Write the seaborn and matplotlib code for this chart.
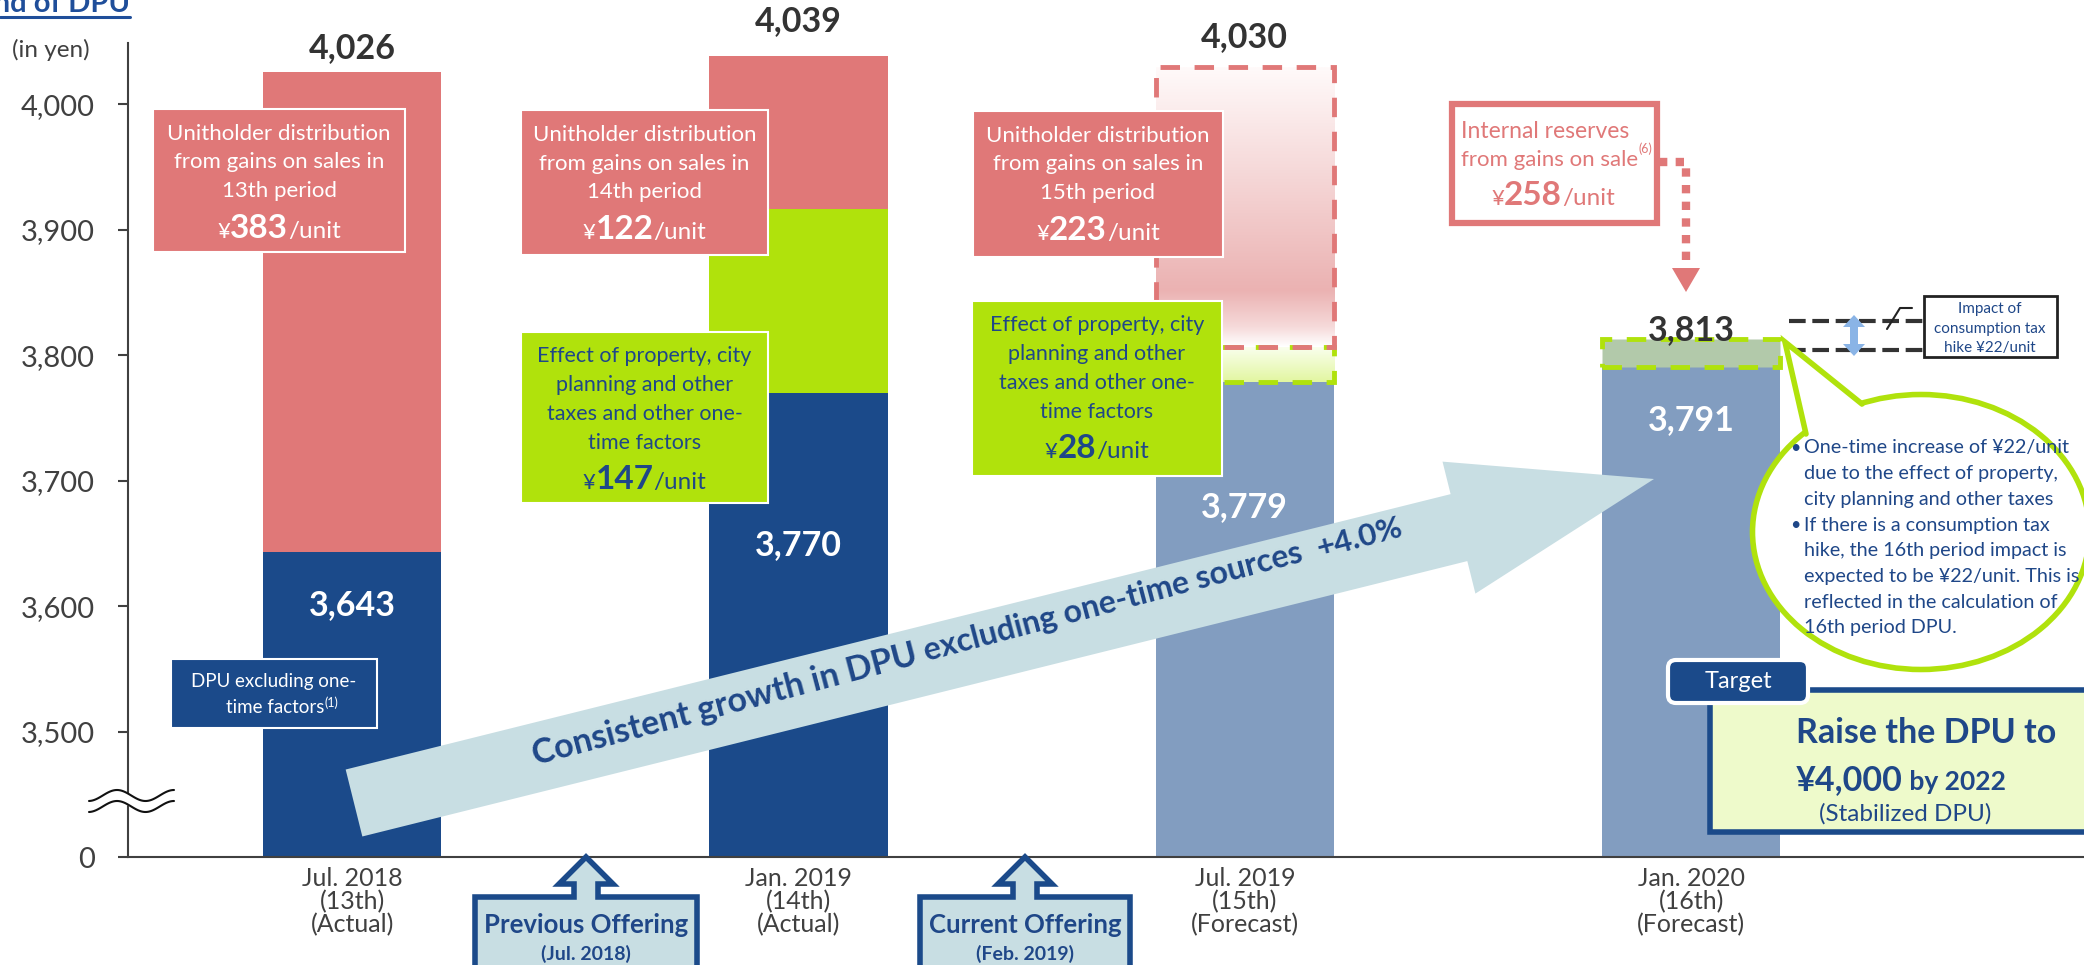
import matplotlib
matplotlib.use("Agg")
import matplotlib.pyplot as plt
import numpy as np
import pandas as pd
import seaborn as sns
from matplotlib.colors import LinearSegmentedColormap
from matplotlib.patches import Rectangle, Ellipse, Polygon, FancyArrow, FancyBboxPatch

# ---- data -------------------------------------------------------------
periods = ["Jul. 2018\n(13th)\n(Actual)", "Jan. 2019\n(14th)\n(Actual)",
           "Jul. 2019\n(15th)\n(Forecast)", "Jan. 2020\n(16th)\n(Forecast)"]
period_names = ["13th", "14th", "15th", "16th"]
dpu_excl = [3643, 3770, 3779, 3791]        # DPU excluding one-time factors
one_time = [0, 147, 28, 22]                # property / city planning taxes etc.
gains_dist = [383, 122, 223, 0]            # distribution from gains on sales
totals = [4026, 4039, 4030, 3813]
is_forecast = [False, False, True, True]
reserve_per_unit = 258
tax_hike_impact = 22
y_ticks = [3500, 3600, 3700, 3800, 3900, 4000]
AXIS_FLOOR = 3400                          # where the broken axis shows "0"

DARK = "#1B4A8A"
PINK = "#E07878"
LIME = "#B0E20C"
LIGHT = "#829DC0"
ARROW = "#C8DEE3"
TXT_BLUE = "#1F4788"
GREY = "#404040"
BAR_W = 0.4

sns.set_theme(style="white")
plt.rcParams["font.family"] = ["Lato", "DejaVu Sans"]

W, H = 2084, 965
fig = plt.figure(figsize=(W / 100, H / 100), dpi=100)
ax = fig.add_axes([128 / W, 1 - 857 / H, 1 - 128 / W, (857 - 43) / H])

df = pd.DataFrame({"period": periods, "base": dpu_excl, "one_time": one_time,
                   "gains": gains_dist, "total": totals, "forecast": is_forecast})
df["mid"] = df["base"] + df["one_time"]
solid = df[~df["forecast"]]

# stacked solid bars: total (pink) -> base + one-time (lime) -> base
sns.barplot(data=solid, x="period", y="total", order=periods, color=PINK,
            width=BAR_W, saturation=1, linewidth=0, errorbar=None, ax=ax)
sns.barplot(data=solid[solid["one_time"] > 0], x="period", y="mid", order=periods,
            color=LIME, width=BAR_W, saturation=1, linewidth=0, errorbar=None, ax=ax)
palette = {p: (LIGHT if f else DARK) for p, f in zip(periods, is_forecast)}
sns.barplot(data=df, x="period", y="base", hue="period", order=periods, palette=palette,
            width=BAR_W, saturation=1, linewidth=0, errorbar=None, legend=False, ax=ax)

# forecast bars: gradient + dashed segments
pink_cm = LinearSegmentedColormap.from_list(
    "pk", [(0, "#FFFFFF"), (0.07, "#F6DADA"), (0.2, "#EBB2B2"), (1, "#FFFAFA")])
lime_cm = LinearSegmentedColormap.from_list("lm", [(0, "#E2F6A0"), (1, "#FAFFF0")])
grad = np.linspace(0, 1, 256).reshape(-1, 1)
dash = (0, (4, 3))
for i, row in df.iterrows():
    if not row["forecast"]:
        continue
    x0 = i - BAR_W / 2
    if row["gains"] > 0:
        ax.imshow(grad, extent=[x0, x0 + BAR_W, row["base"], row["mid"]], cmap=lime_cm,
                  aspect="auto", origin="lower", zorder=2)
        ax.imshow(grad, extent=[x0, x0 + BAR_W, row["mid"], row["total"]], cmap=pink_cm,
                  aspect="auto", origin="lower", zorder=2)
        ax.add_patch(Rectangle((x0, row["base"]), BAR_W, row["one_time"], fill=False,
                               ec=LIME, lw=3.5, ls=dash, zorder=3))
        ax.add_patch(Rectangle((x0, row["mid"]), BAR_W, row["gains"], fill=False,
                               ec=PINK, lw=3.5, ls=dash, zorder=3))
    else:
        ax.add_patch(Rectangle((x0, row["base"]), BAR_W, row["one_time"], fc="#B2C9AA",
                               ec=LIME, lw=3.5, ls=dash, zorder=3))

# value labels
top_off = [24, 34, 30, 9]
in_off = [53, 152, 125, 53]
for i, row in df.iterrows():
    ax.annotate(f"{row['total']:,}", (i, row["total"]), xytext=(0, top_off[i] * 0.72),
                textcoords="offset points", ha="center", va="center", fontsize=24.5,
                weight="bold", color="#333333", annotation_clip=False, zorder=6)
    ax.annotate(f"{row['base']:,}", (i, row["base"]), xytext=(0, -in_off[i] * 0.72),
                textcoords="offset points", ha="center", va="center", fontsize=24.5,
                weight="bold", color="white", annotation_clip=False, zorder=6)

ax.set_xlim(-0.502, 3.88)
ax.set_ylim(AXIS_FLOOR, 4049)
ax.set_yticks([AXIS_FLOOR] + y_ticks)
ax.set_yticklabels(["0"] + [f"{v:,}" for v in y_ticks])
ax.set_xlabel("")
ax.set_ylabel("")
for t in ax.get_xticklabels():
    t.set_linespacing(1.0)
ax.tick_params(axis="y", length=7, width=1.5, color=GREY, pad=17, labelsize=21, labelcolor=GREY, left=True)
ax.tick_params(axis="x", length=0, pad=7, labelsize=18, labelcolor=GREY)
for side in ["top", "right"]:
    ax.spines[side].set_visible(False)
for side in ["left", "bottom"]:
    ax.spines[side].set_color(GREY)
    ax.spines[side].set_linewidth(1.5)

# ---- annotation overlay (pixel coordinates) --------------------------
ov = fig.add_axes([0, 0, 1, 1], zorder=5)
ov.set_xlim(0, W)
ov.set_ylim(H, 0)
ov.axis("off")
renderer = fig.canvas.get_renderer()


def rich(x, y, parts, color, align="center", z=8):
    items = []
    for text, size, weight, dy in parts:
        items.append(ov.text(0, y + dy, text, fontsize=size, fontweight=weight, color=color,
                             ha="left", va="baseline", zorder=z))
    widths = [t.get_window_extent(renderer).width for t in items]
    start = x - sum(widths) / 2 if align == "center" else x
    for t, w in zip(items, widths):
        t.set_x(start)
        start += w


def box(x0, y0, x1, y1, fc, ec="white", lw=1.5, z=4):
    ov.add_patch(Rectangle((x0, y0), x1 - x0, y1 - y0, fc=fc, ec=ec, lw=lw, zorder=z))


def amount(cx, y, value, color):
    rich(cx, y, [("¥", 16, "normal", 0), (str(value), 24, "bold", 0), ("/unit", 17.5, "normal", 0)], color)


# title (cut off at the top-left edge, as in the slide) and unit
ov.text(130, 12, "Trend of DPU", ha="right", va="baseline", fontsize=21, weight="bold", color="#1F4E9A")
ov.plot([0, 130], [17, 17], color="#1F4E9A", lw=2.2)
ov.text(51, 50, "(in yen)", ha="center", va="center", fontsize=17.5, color=GREY)

# pink boxes: unitholder distribution from gains on sales
pink_boxes = [(153, 109, 405, 252), (521, 110, 768, 255), (973, 111, 1223, 257)]
for (x0, y0, x1, y1), g, name in zip(pink_boxes, gains_dist, period_names):
    box(x0, y0, x1, y1, PINK)
    cx = (x0 + x1) / 2
    for k, line in enumerate(["Unitholder distribution", "from gains on sales in", f"{name} period"]):
        ov.text(cx, y0 + 25 + k * 28.5, line, ha="center", va="center", fontsize=16, color="white", zorder=8)
    amount(cx, y0 + 129, g, "white")

# lime boxes: one-time tax effects
green_boxes = {1: (521, 332, 768, 503), 2: (972, 301, 1222, 476)}
for i, (x0, y0, x1, y1) in green_boxes.items():
    box(x0, y0, x1, y1, LIME)
    cx = (x0 + x1) / 2
    for k, line in enumerate(["Effect of property, city", "planning and other",
                              "taxes and other one-", "time factors"]):
        ov.text(cx, y0 + 24 + k * 29, line, ha="center", va="center", fontsize=15.5, color=TXT_BLUE, zorder=8)
    amount(cx, y0 + 157, one_time[i], TXT_BLUE)

# DPU excluding one-time factors label
box(171, 659, 377, 728, DARK, lw=1.5)
ov.text(274, 682, "DPU excluding one-", ha="center", va="center", fontsize=13.5, color="white", zorder=8)
rich(282, 713, [("time factors", 13.5, "normal", 0), ("(1)", 9, "normal", -6)], "white")

# internal reserves box + dotted arrow down to the 16th period bar
ov.add_patch(Rectangle((1452, 104), 205, 119, fc="white", ec=PINK, lw=4.5, zorder=4))
ov.text(1461, 131, "Internal reserves", ha="left", va="center", fontsize=16.5, color=PINK, zorder=8)
rich(1461, 166, [("from gains on sale", 16, "normal", 0), ("(6)", 9, "normal", -13)], PINK, align="left")
amount(1553, 205, reserve_per_unit, PINK)
ov.plot([1659, 1686, 1686], [162, 162, 272], color=PINK, lw=6, ls=(0, (1, 1)),
        dash_capstyle="butt", zorder=4)
ov.add_patch(Polygon([(1672, 268), (1700, 268), (1686, 292)], closed=True, fc=PINK, ec="none", zorder=4))

# consumption tax hike marker
for yy in (321, 350):
    ov.plot([1789, 1924], [yy, yy], color="#333333", lw=3, ls=(0, (4, 1.6)), zorder=4)
ax_c, y_top, y_bot = 1854, 315, 356
dbl = [(ax_c, y_top), (ax_c + 11, y_top + 12), (ax_c + 4, y_top + 12), (ax_c + 4, y_bot - 12),
       (ax_c + 11, y_bot - 12), (ax_c, y_bot), (ax_c - 11, y_bot - 12), (ax_c - 4, y_bot - 12),
       (ax_c - 4, y_top + 12), (ax_c - 11, y_top + 12)]
ov.add_patch(Polygon(dbl, closed=True, fc="#8AB4E6", ec="none", zorder=5))
ov.plot([1887, 1900, 1912], [329, 308, 308], color="#222222", lw=1.5, zorder=5)
ov.add_patch(Rectangle((1924, 296), 133, 61, fc="white", ec="#222222", lw=2, zorder=5))
for k, line in enumerate(["Impact of", "consumption tax", f"hike ¥{tax_hike_impact}/unit"]):
    ov.text(1990, 309 + k * 19.5, line, ha="center", va="center", fontsize=11, color=TXT_BLUE, zorder=8)

# speech bubble
ov.add_patch(Ellipse((1921, 532), 337, 275, fc="white", ec=LIME, lw=4, zorder=4))
ov.add_patch(Polygon([(1785, 342), (1862, 404), (1850, 440), (1805, 434)], closed=True,
                     fc="white", ec="none", zorder=4.5))
ov.plot([1862, 1785, 1806], [404, 342, 434], color=LIME, lw=4, solid_joinstyle="miter", zorder=4.6)
bubble = [("•", "One-time increase of ¥22/unit"), ("", "due to the effect of property,"),
          ("", "city planning and other taxes"), ("•", "If there is a consumption tax"),
          ("", "hike, the 16th period impact is"), ("", "expected to be ¥22/unit. This is"),
          ("", "reflected in the calculation of"), ("", "16th period DPU.")]
for k, (bullet, line) in enumerate(bubble):
    yy = 448 + k * 25.7
    if bullet:
        ov.text(1790, yy, bullet, ha="left", va="center", fontsize=13, color=TXT_BLUE, zorder=8)
    ov.text(1804, yy, line, ha="left", va="center", fontsize=14.2, color=TXT_BLUE, zorder=8)

# target boxes
ov.add_patch(Rectangle((1710, 690), 390, 142, fc="#EEFACB", ec=DARK, lw=4, zorder=4))
ov.add_patch(FancyBboxPatch((1668, 660), 140, 43, boxstyle="round,pad=0,rounding_size=8",
                            fc=DARK, ec="white", lw=3, zorder=5))
ov.text(1738, 682, "Target", ha="center", va="center", fontsize=17, color="white", zorder=8)
ov.text(1796, 733, "Raise the DPU to", ha="left", va="center", fontsize=24.5, weight="bold", color=TXT_BLUE, zorder=8)
rich(1796, 790, [("¥4,000", 24.5, "bold", 0), (" by 2022", 19, "bold", 0)], TXT_BLUE, align="left")
ov.text(1905, 814, "(Stabilized DPU)", ha="center", va="center", fontsize=17.5, color=TXT_BLUE, zorder=8)

# growth arrow
ov.add_patch(FancyArrow(354, 803, 1300, -324, width=69, head_width=136, head_length=201,
                        length_includes_head=True, fc=ARROW, ec="none", zorder=3))
angle = 14.8
ca, sa = np.cos(np.radians(angle)), np.sin(np.radians(angle))
px, py = 535, 765
for text, size in [("Consistent growth in DPU ", 24.5), ("excluding one-time sources  ", 23), ("+4.0%", 22.5)]:
    t = ov.text(px, py, text, fontsize=size, weight="bold", color=TXT_BLUE, ha="left",
                va="baseline", rotation_mode="anchor", zorder=8)
    w = t.get_window_extent(renderer).width
    t.set_rotation(angle)
    px += w * ca
    py -= w * sa

# offering arrows under the axis
for cx, (x0, x1), title, when in [(586, (475, 697), "Previous Offering", "(Jul. 2018)"),
                                   (1025, (920, 1130), "Current Offering", "(Feb. 2019)")]:
    pts = [(cx, 857), (cx + 27, 884), (cx + 12, 884), (cx + 12, 897), (x1, 897), (x1, 980),
           (x0, 980), (x0, 897), (cx - 12, 897), (cx - 12, 884), (cx - 27, 884)]
    ov.add_patch(Polygon(pts, closed=True, fc=ARROW, ec=DARK, lw=4, joinstyle="miter", zorder=4))
    ov.text(cx, 925, title, ha="center", va="center", fontsize=18.5, weight="bold", color=TXT_BLUE, zorder=8)
    ov.text(cx, 954, when, ha="center", va="center", fontsize=14, weight="bold", color=TXT_BLUE, zorder=8)

# axis break marks
xs = np.linspace(89, 174, 120)
y1 = 795.5 - 5.5 * np.cos(2 * np.pi * (xs - 117) / 57)
y2 = y1 + 11
ov.fill_between(xs, y1, y2, color="white", zorder=6)
ov.plot(xs, y1, color="#111111", lw=1.5, zorder=7)
ov.plot(xs, y2, color="#111111", lw=1.5, zorder=7)

fig.savefig("out.png", dpi=100)
